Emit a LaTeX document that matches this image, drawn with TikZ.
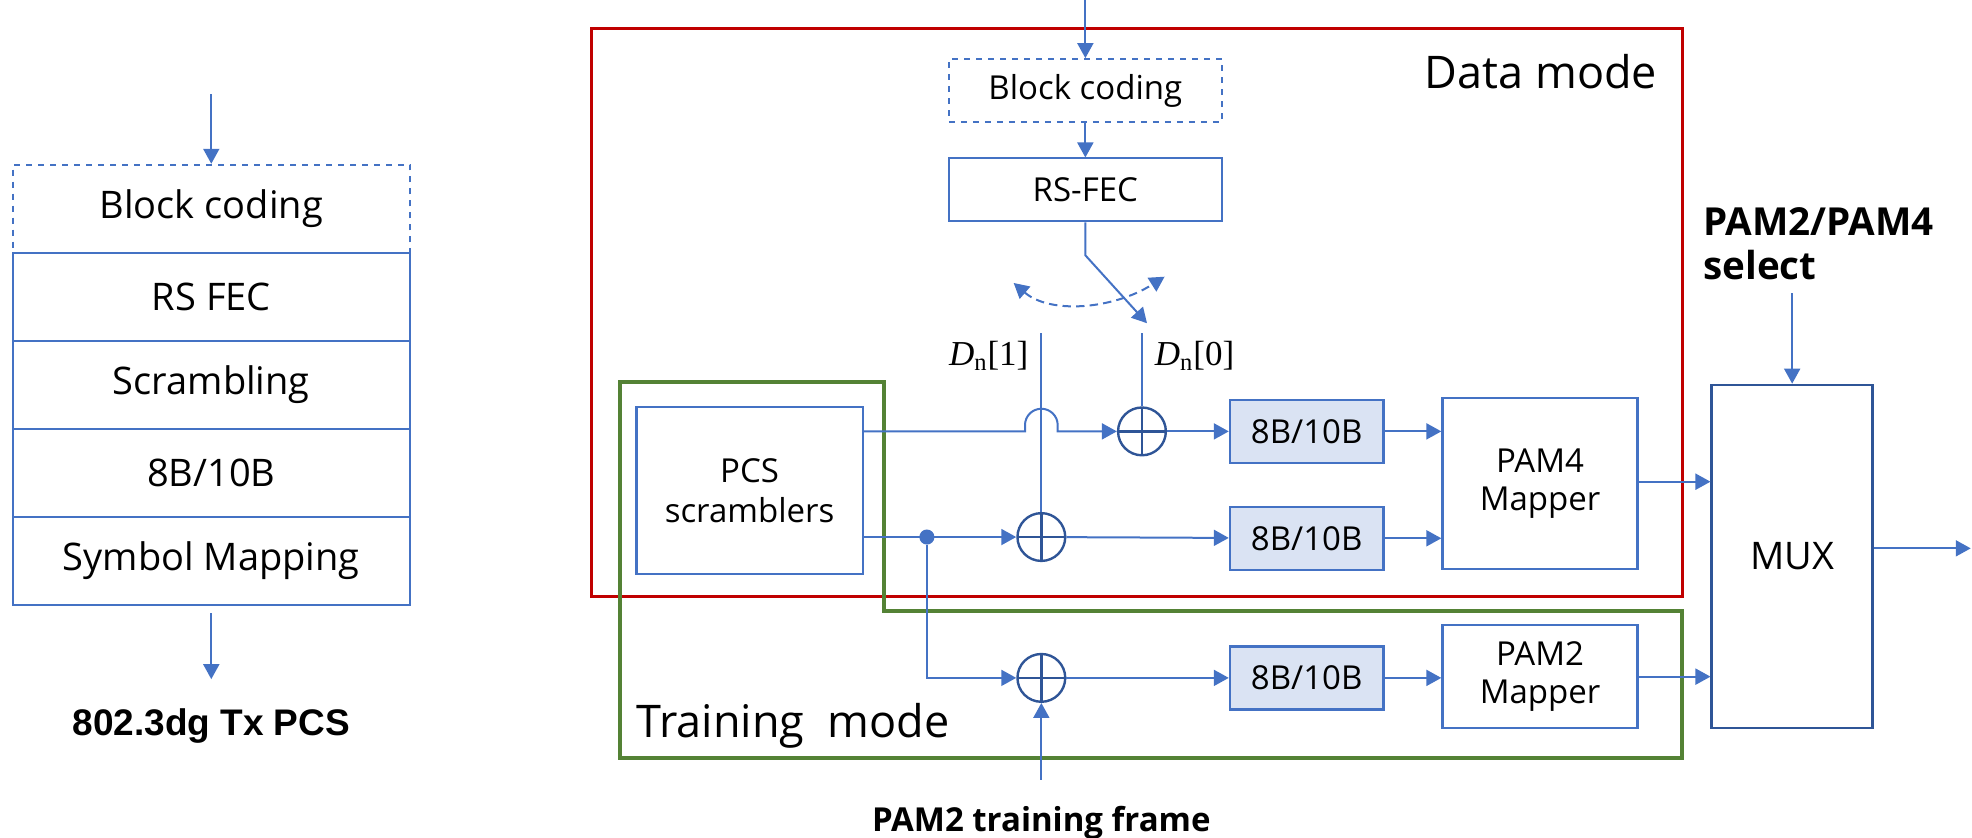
\documentclass[tikz,border=0pt]{standalone}
\usepackage{fontspec}
\setmainfont{Open Sans}
\newfontfamily\arialfont{Liberation Sans}
\newfontfamily\timesfont{Liberation Serif}
\usetikzlibrary{arrows.meta}
\definecolor{lineblue}{HTML}{4472C4}
\definecolor{darkblue}{HTML}{2F5597}
\definecolor{encfill}{HTML}{DAE3F3}
\definecolor{modered}{HTML}{C00000}
\definecolor{modegreen}{HTML}{548235}
\newdimen\pxu
\pxu=0.629pt

\begin{document}
\begin{tikzpicture}[x=0.629pt,y=-0.629pt,
  >={Triangle[length=7.5pt,width=8pt]},
  conn/.style={draw=lineblue,line width=1pt},
  stackbox/.style={draw=lineblue,line width=1pt,minimum width=316\pxu,minimum height=70\pxu,inner sep=0pt,font=\fontsize{19}{22}\selectfont},
  topbox/.style={draw=lineblue,line width=1pt,minimum width=217\pxu,minimum height=50\pxu,inner sep=0pt,font=\fontsize{16.5}{19}\selectfont},
  encbox/.style={draw=lineblue,fill=encfill,line width=1.2pt,minimum width=122\pxu,minimum height=50\pxu,inner sep=0pt,font=\fontsize{16.5}{19}\selectfont},
  mapbox/.style={draw=lineblue,line width=1.2pt,minimum width=155\pxu,align=center,inner sep=0pt,font=\fontsize{16.5}{19}\selectfont},
  xorop/.style={circle,draw=darkblue,line width=1.2pt,minimum size=38\pxu,inner sep=0pt,
    path picture={\draw[darkblue,line width=1.2pt] (path picture bounding box.north) -- (path picture bounding box.south)
      (path picture bounding box.west) -- (path picture bounding box.east);}},
  modetext/.style={font=\fontsize{22.5}{26}\selectfont,inner sep=0pt},
  boldtext/.style={font=\fontsize{16.5}{20}\selectfont\bfseries,inner sep=0pt},
  dntext/.style={font=\timesfont\fontsize{17.5}{20}\selectfont,inner sep=0pt}]
\useasboundingbox (0,0) rectangle (1568,666);

% left: 802.3dg PCS stack
\coordinate (lin) at (168,75);
\node[stackbox,dashed] (blk1) at (168,166) {Block coding};
\node[stackbox] (rs1) at (168,236) {RS FEC};
\node[stackbox] (scr1) at (168,306) {Scrambling};
\node[stackbox] (enc1) at (168,376) {8B/10B};
\node[stackbox] (map1) at (168,446) {Symbol Mapping};
\coordinate (lout) at (168,540);
\node[inner sep=0pt,font=\arialfont\bfseries\fontsize{18.5}{22}\selectfont] (pcsname) at (168,577) {802.3dg Tx PCS};
\path[conn,->] (lin) -- (blk1);
\path[conn,->,shorten <=6\pxu] (map1) -- (lout);

% mode frames
\draw[modered,line width=1.5pt] (470,23) rectangle (1338,474);
\draw[modegreen,line width=2pt] (493,304) -- (703,304) -- (703,486) -- (1337,486) -- (1337,603) -- (493,603) -- cycle;
\node[modetext,anchor=east] (datamode) at (1318,57) {Data mode};
\node[modetext,anchor=west] (trainmode) at (506,577) {Training~ mode};

% data path
\coordinate (topin) at (863,0);
\node[topbox,dashed] (blk2) at (863,72) {Block coding};
\node[topbox] (rsfec) at (863,151) {RS-FEC};
\coordinate (sw) at (863,203);
\coordinate (swend) at (912,257);
\coordinate (arcl) at (806,225);
\coordinate (arcr) at (926,220);
\path[conn,->] (topin) -- (blk2);
\path[conn,->] (blk2) -- (rsfec);
\path[conn,->] (rsfec) -- (sw) -- (swend);
\path[conn,dash pattern=on 4.2pt off 2.6pt,<->] (arcl) .. controls (835,250) and (885,246) .. (arcr);

\coordinate (d1top) at (828,265);
\coordinate (d0top) at (908,265);
\node[dntext,anchor=east] (d1) at (818,283) {\textit{D}\textsubscript{n}[1]};
\node[dntext,anchor=west] (d0) at (918,283) {\textit{D}\textsubscript{n}[0]};

\node[draw=lineblue,line width=1.2pt,minimum width=180\pxu,minimum height=133\pxu,align=center,
  font=\fontsize{16.5}{20}\selectfont] (pcs) at (596,390) {PCS\\scramblers};
\node[xorop] (xor2) at (908,343) {};
\node[xorop] (xor1) at (828,427) {};
\node[xorop] (xor3) at (828,539) {};
\node[circle,fill=lineblue,minimum size=12\pxu,inner sep=0pt] (dot) at (737,427) {};

\path[conn] (d1top) -- (xor1);
\path[conn] (d0top) -- (xor2);
\path[conn,->] (pcs.east |- xor2) -- (815,343) -- ++(0,-5) arc[start angle=180,end angle=360,radius=13] -- ++(0,5) -- (xor2);
\path[conn,->] (pcs.east |- xor1) -- (xor1);
\path[conn,->] (dot) |- (xor3);

\coordinate (frmin) at (828,620);
\path[conn,->] (frmin) -- (xor3);
\node[boldtext] (frmname) at (828,654) {PAM2 training frame};

% encoders and mappers
\node[encbox] (enc2) at (1039,343) {8B/10B};
\node[encbox] (enc3) at (1039,428) {8B/10B};
\node[encbox] (enc4) at (1039,539) {8B/10B};
\node[mapbox,minimum height=136\pxu] (pam4) at (1224.5,384.5) {PAM4\\Mapper};
\node[mapbox,minimum height=82\pxu] (pam2) at (1224.5,538) {PAM2\\Mapper};
\node[draw=darkblue,line width=1.2pt,minimum width=128\pxu,minimum height=273\pxu,inner sep=0pt,
  font=\fontsize{19}{22}\selectfont] (mux) at (1425,442.5) {MUX};

\path[conn,->] (xor2) -- (enc2);
\path[conn,->] (xor1) -- (enc3);
\path[conn,->] (xor3) -- (enc4);
\path[conn,->] (enc2) -- (pam4.west |- enc2);
\path[conn,->] (enc3) -- (pam4.west |- enc3);
\path[conn,->] (enc4) -- (pam2.west |- enc4);
\path[conn,->] (pam4.east |- 0,383) -- (mux.west |- 0,383);
\path[conn,->] (pam2) -- (mux.west |- pam2);

\coordinate (out) at (1567,436);
\path[conn,->] (mux.east |- out) -- (out);

\node[font=\fontsize{19.3}{22}\selectfont\bfseries,align=left,anchor=west,inner sep=0pt] (selname) at (1354,194) {PAM2/PAM4\\select};
\coordinate (selin) at (1425,233);
\path[conn,->] (selin) -- (mux);
\end{tikzpicture}
\end{document}
